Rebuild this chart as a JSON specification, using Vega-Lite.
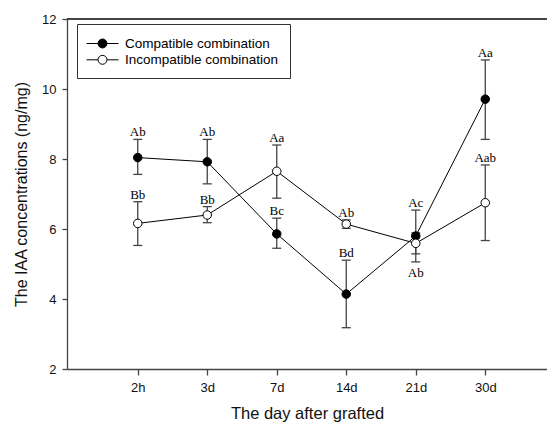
{
  "$schema": "https://vega.github.io/schema/vega-lite/v6.json",
  "autosize": {"type": "none"},
  "width": 480,
  "height": 350,
  "padding": {"left": 67, "top": 19, "right": 0, "bottom": 58},
  "background": "white",
  "config": {
    "view": {"stroke": null},
    "axis": {
      "domainColor": "#444",
      "domainWidth": 1.3,
      "tickColor": "#444",
      "tickWidth": 1.3,
      "grid": false,
      "labelFont": "Liberation Sans",
      "labelFontSize": 13,
      "labelColor": "#111",
      "titleFont": "Liberation Sans",
      "titleFontWeight": "normal",
      "titleColor": "#111"
    }
  },
  "data": {
    "values": [
      {"series": "Compatible combination", "day": "2h", "mean": 8.04, "lo": 7.56, "hi": 8.56, "label": "Ab", "side": "above"},
      {"series": "Compatible combination", "day": "3d", "mean": 7.92, "lo": 7.29, "hi": 8.56, "label": "Ab", "side": "above"},
      {"series": "Compatible combination", "day": "7d", "mean": 5.86, "lo": 5.45, "hi": 6.31, "label": "Bc", "side": "above"},
      {"series": "Compatible combination", "day": "14d", "mean": 4.14, "lo": 3.18, "hi": 5.11, "label": "Bd", "side": "above"},
      {"series": "Compatible combination", "day": "21d", "mean": 5.80, "lo": 5.06, "hi": 6.54, "label": "Ac", "side": "above"},
      {"series": "Compatible combination", "day": "30d", "mean": 9.71, "lo": 8.56, "hi": 10.83, "label": "Aa", "side": "above"},
      {"series": "Incompatible combination", "day": "2h", "mean": 6.16, "lo": 5.53, "hi": 6.78, "label": "Bb", "side": "above"},
      {"series": "Incompatible combination", "day": "3d", "mean": 6.40, "lo": 6.18, "hi": 6.64, "label": "Bb", "side": "above"},
      {"series": "Incompatible combination", "day": "7d", "mean": 7.65, "lo": 6.88, "hi": 8.40, "label": "Aa", "side": "above"},
      {"series": "Incompatible combination", "day": "14d", "mean": 6.14, "lo": 6.02, "hi": 6.26, "label": "Ab", "side": "above"},
      {"series": "Incompatible combination", "day": "21d", "mean": 5.59, "lo": 5.29, "hi": 5.89, "label": "Ab", "side": "below"},
      {"series": "Incompatible combination", "day": "30d", "mean": 6.75, "lo": 5.67, "hi": 7.83, "label": "Aab", "side": "above"}
    ]
  },
  "encoding": {
    "x": {
      "field": "day",
      "type": "ordinal",
      "sort": ["2h", "3d", "7d", "14d", "21d", "30d"],
      "scale": {"type": "point", "padding": 0.953, "align": 0.534},
      "axis": {
        "title": "The day after grafted",
        "titleFontSize": 16.5,
        "titlePadding": 11,
        "labelAngle": 0,
        "tickSize": 6,
        "labelPadding": 6
      }
    }
  },
  "layer": [
    {
      "mark": {"type": "rule", "color": "#444", "strokeWidth": 1.3},
      "encoding": {"x": null, "y": {"datum": 12, "type": "quantitative", "scale": {"domain": [2, 12], "zero": false, "nice": false}}}
    },
    {
      "mark": {"type": "rule", "color": "#444", "strokeWidth": 1.3},
      "encoding": {
        "y": {
          "field": "lo",
          "type": "quantitative",
          "scale": {"domain": [2, 12], "zero": false, "nice": false},
          "axis": {
            "title": "The IAA concentrations (ng/mg)",
            "titleFontSize": 16,
            "titlePadding": 12,
            "values": [2, 4, 6, 8, 10, 12],
            "tickSize": 5,
            "labelPadding": 6
          }
        },
        "y2": {"field": "hi"},
        "detail": {"field": "series"}
      }
    },
    {
      "mark": {"type": "tick", "color": "#444", "thickness": 1.3, "size": 9, "opacity": 1},
      "encoding": {"y": {"field": "hi", "type": "quantitative"}, "detail": {"field": "series"}}
    },
    {
      "mark": {"type": "tick", "color": "#444", "thickness": 1.3, "size": 9, "opacity": 1},
      "encoding": {"y": {"field": "lo", "type": "quantitative"}, "detail": {"field": "series"}}
    },
    {
      "mark": {"type": "line", "color": "black", "strokeWidth": 1},
      "encoding": {"y": {"field": "mean", "type": "quantitative"}, "detail": {"field": "series"}}
    },
    {
      "mark": {"type": "point", "shape": "circle", "filled": true, "stroke": "black", "strokeWidth": 1, "size": 72, "opacity": 1},
      "encoding": {
        "y": {"field": "mean", "type": "quantitative"},
        "fill": {
          "field": "series",
          "type": "nominal",
          "scale": {"domain": ["Compatible combination", "Incompatible combination"], "range": ["black", "white"]},
          "legend": {
            "title": null,
            "orient": "none",
            "legendX": 10,
            "legendY": 5,
            "padding": 11,
            "strokeColor": "#333",
            "fillColor": "white",
            "cornerRadius": 0,
            "symbolType": "M-2,0L-0.56,0M0.56,0L2,0M-0.56,0A0.56,0.56,0,1,1,0.56,0A0.56,0.56,0,1,1,-0.56,0Z",
            "symbolSize": 256,
            "symbolStrokeColor": "black",
            "symbolStrokeWidth": 1,
            "symbolOffset": 6,
            "labelOffset": 14,
            "labelFont": "Liberation Sans",
            "labelFontSize": 13.5,
            "labelColor": "black",
            "labelLimit": 300,
            "rowPadding": 1.3
          }
        }
      }
    },
    {
      "transform": [{"filter": "datum.side === 'above'"}],
      "mark": {"type": "text", "font": "Liberation Serif", "fontSize": 13, "color": "black", "baseline": "alphabetic", "dy": -3},
      "encoding": {"y": {"field": "hi", "type": "quantitative"}, "text": {"field": "label"}}
    },
    {
      "transform": [{"filter": "datum.side === 'below'"}],
      "mark": {"type": "text", "font": "Liberation Serif", "fontSize": 13, "color": "black", "baseline": "top", "dy": 13},
      "encoding": {"y": {"field": "lo", "type": "quantitative"}, "text": {"field": "label"}}
    }
  ]
}
